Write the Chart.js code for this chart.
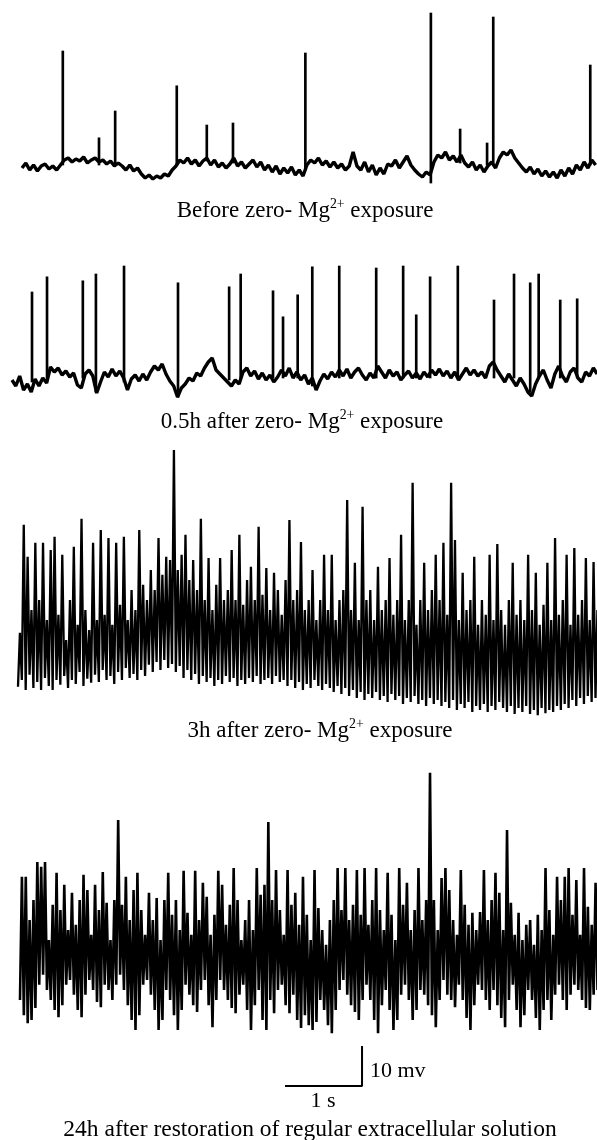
<!DOCTYPE html>
<html>
<head>
<meta charset="utf-8">
<script src="https://cdn.jsdelivr.net/npm/chart.js@4.4.1/dist/chart.umd.min.js"></script>
<style>
  body { margin: 0; background: #fff; }
  #wrap { position: relative; width: 597px; height: 1140px; overflow: hidden; }
  #traces { position: absolute; left: 0; top: 0; }
  .cap {
    position: absolute; color: #000; white-space: nowrap;
    font-family: 'Liberation Serif', 'Times New Roman', serif;
    font-size: 23px; line-height: 23px;
  }
  .mid { transform: translateX(-50%); }
  .sup { position: relative; top: -0.65em; font-size: 0.6em; }
</style>
</head>
<body>
<div id="wrap">
  <canvas id="traces" width="597" height="1140"></canvas>
  <div class="cap mid" style="left:305px; top:198px;">Before zero- Mg<span class="sup">2+</span> exposure</div>
  <div class="cap mid" style="left:302px; top:409px;">0.5h after zero- Mg<span class="sup">2+</span> exposure</div>
  <div class="cap mid" style="left:320px; top:718px;">3h after zero- Mg<span class="sup">2+</span> exposure</div>
  <div class="cap" style="left:370px; top:1059px; font-size:22px; line-height:22px;">10 mv</div>
  <div class="cap mid" style="left:323px; top:1089px; font-size:22px; line-height:22px;">1 s</div>
  <div class="cap mid" style="left:310px; top:1117px; font-size:23.5px;">24h after restoration of regular extracellular solution</div>
</div>
<script>
const dt = 0.05; // seconds between samples

// Before zero-Mg2+ : membrane potential around rest (mV), then spikes
const base1 = [-0.75,0.5,-1.25,0,-1.5,-0.25,0.25,-1,-0.25,-1.25,
  0,1.25,1.75,0.75,1.5,1,2,0.5,1.25,1.75,
  0.75,1.25,0.25,1,-0.25,0.5,-0.25,-1.25,0,-1.5,
  -0.75,-2.25,-3.25,-2.5,-3.5,-2.75,-3.25,-2.25,-2.75,-1.25,
  -0.25,1.25,0.5,1.75,0.25,1.25,-0.25,1,1.75,0,
  1.25,-0.5,0.5,-0.75,0.25,1.75,-0.25,0.75,-0.75,0.25,
  1.25,-0.5,0.75,-1.25,0,-1.75,-0.25,-2.25,-0.75,-2,
  -0.5,-2.5,-1.25,-2.75,0,1.25,0.5,1.75,0,1,
  -0.5,0.75,-0.75,0.25,-1.25,-0.25,3.25,-0.25,-1.25,0.75,
  -1.75,0,-2.5,-0.75,-2.25,0.25,-0.25,1.25,-0.75,0.75,
  2.25,0,-1.25,-2.25,-3,-1.75,-2.5,0.75,2.5,1.75,
  3.25,1.25,2.25,0.75,2.5,0.5,-0.5,0.75,-1.25,0,
  -1.75,-0.25,0.75,-0.75,1.75,3.25,2.5,3.75,1.75,0.5,
  -0.75,-1.75,-0.5,-2.25,-1,-2.75,-1.5,-3,-1.75,-3.25,
  -1.25,-2.75,-0.75,-2.25,0,-1.25,0.75,-0.75,1.25,0];
const spikeT1   = [0.53, 1.0, 1.21, 2.01, 2.40, 2.74, 3.68, 5.31, 5.69, 6.04, 6.12, 7.38];
const spikeTop1 = [28.5, 6.8, 13.5, 19.8, 10, 10.5, 28, 38, 9, 5.5, 37, 25];
const spikeLow1 = [0, 0, 0, 0, 1, 0.5, -1.3, -4.5, 0.5, 0, 0.5, 0];

// 0.5 h after zero-Mg2+
const base2 = [-0.5,-2,0.5,-3,-1.5,-3.5,-0.25,-2,0,-1.25,
  2.75,1.5,2.5,0.75,1.75,0.25,1.25,-1.75,-2.5,1,
  2,0.5,-3.75,-1,1.5,0.25,2.25,0.5,1.75,0,
  -3,-0.25,0.75,-0.75,1,-0.5,1.5,3,2,3.5,
  1,-0.75,-2,-4.75,-2.5,-1.5,0,-0.75,1.25,0.5,
  2.5,4,5,2,1,0,-1,-2,-0.5,-1.5,
  1.5,2.5,0.5,1.75,-0.25,1.25,-0.5,0.75,-1,0.25,
  2,0.5,2.5,0,1.5,-0.5,0.75,-1.5,0,-3,
  -0.75,1,-0.25,1.5,0.25,2,0.5,2.25,0,1.5,
  2.5,0.75,-0.5,1.25,0,3,1.5,0,2,0.5,
  1.5,-0.5,0.75,1.75,0,1.25,-0.25,1.5,0.25,2,
  0.75,2.25,0.5,1.75,0,1.5,-0.5,1,2.5,0.75,
  2,0.5,1.5,0,3,4,2,0.5,-1,1,
  -0.5,-2,0,-1.5,-3.5,-4.5,-1.5,0.5,2,-0.5,
  -2.5,1,3,0.5,-1,1.5,2.5,0,-1,1.5,
  0.5,2.5,1];
const spikeT2   = [0.13, 0.325, 0.79, 0.96, 1.325, 2.026, 2.69, 2.84, 3.26, 3.39, 3.58, 3.77,
                   4.12, 4.6, 4.95, 5.12, 5.30, 5.66, 6.13, 6.39, 6.60, 6.71, 6.99, 7.21];
const spikeTop2 = [21.5, 25.3, 24.3, 26, 28, 23.8, 22.8, 26, 21.8, 15.3, 20.8, 27.8,
                   28, 27.5, 28, 15.8, 25.3, 28, 19.5, 26, 23.8, 26, 19.5, 19.8];
const spikeLow2 = [-1, 0, 0, -3.5, -1, -4.8, -0.5, 0, 0, 0, 0, -2,
                   0, 0, 0, 0, 0, 0, 0, 0, -3.5, 0, 0, 0];

// 3 h after zero-Mg2+ : troughs and peaks of each discharge
const trough3 = [0.8,2.5,0,3.8,0.5,2,0,3,1,0,2.5,
  1.3,3.5,0.5,2.5,1.5,4.5,1,2.8,1.8,3.8,
  2,5,2.5,3.5,1.5,4.5,2.5,5.5,3,4,
  2.5,5,3.5,6.3,4.5,7,5,7.5,5.5,6.5,
  4.5,6,3,5,2.5,4,1.5,3.5,2,3,
  1,2.5,1.5,3.5,2,3,1,2.5,1.5,3,
  2,3.5,1.5,2.5,3,1.5,3.5,2,2.5,1,
  2.5,0.5,2,0,1.5,0.5,2.5,1,0,1.5,
  0.5,-0.5,1,-1,0.5,-1.5,0,-2,-0.5,-2.5,
  -1,-2,-0.5,-2.5,-1.5,-3,-1,-2.5,-1.5,-3.5,
  -2,-3,-1.5,-3.5,-2.5,-4,-2,-3.5,-2.5,-4,
  -3,-4.5,-2.5,-5,-3.5,-4.5,-3,-5.5,-4,-5,
  -3.5,-5.5,-4,-5,-3,-4.5,-5.5,-4,-6,-4.5,
  -5.5,-4,-6,-5,-6.3,-4.5,-5.8,-5,-5.5,-4,
  -5,-3.5,-4.5,-2.5,-4,-2,-3.5,-1.5,-3,-2];
const peak3 = [14.3,41.3,33.3,20,36.8,22.5,36.8,17.5,35,38.3,
  18.8,33.8,12.5,22.5,35.8,16.3,42.8,20,15,36.8,
  17.5,40,18.8,38,16.3,36.8,21.3,38.3,17.5,25,
  20,40,26.3,22.5,30,25,38,28.8,33.3,32.5,
  60,30,33.8,38.8,27.5,32.5,25,42.8,22.5,33,
  20,26.3,33,22.5,25,35,22.5,38.8,21.3,27.5,
  30.8,22.5,40.8,23.8,30.5,20,29.3,25,18.8,27.5,
  42.5,22.5,25,37,20,22.5,30,17.5,22.5,33.8,
  20,33.8,17.5,22.5,25,47.5,20,31.8,17.5,45.8,
  22.5,25,17.5,30.8,20,22.5,33,18.8,22.5,38.8,
  17.5,22.5,51.8,16.3,22.5,31.8,20,25,33.8,22.5,
  36.8,18.8,51.8,37.5,17.5,29.3,20,22.5,33.3,16.3,
  22.5,18.8,33.8,17.5,36.5,20,16.3,22.5,31.8,18.8,
  22.5,17.5,33.8,20,29.3,16.3,21.3,31.8,17.5,38,
  18.8,22.5,33.8,16.3,35.5,18.8,22.5,33,17.5,32,20];

// 24 h after restoration of regular extracellular solution
const trough4 = [0,-3.8,-5.8,-5,-2,3.8,6.3,2.5,0,-2.5,
  -4.3,-1.3,3.8,5,1.3,-2.5,-4.3,1.3,5,2.5,
  -0.5,-1.8,3.8,2.5,0,3.8,6.3,2.5,-1.3,-5,
  -7.5,-3.8,3.8,5,1.3,-2.5,-7.5,-5,2.5,0,
  -3.8,-7.5,-2.5,3.8,1.3,-1.3,-3,2.5,5,-1.3,
  -6.8,0,5,2.5,0,-2,-3.3,1.3,3.8,-2.5,
  -7.5,-1.3,2.5,-5,-7.5,0,-3.3,2.5,3.8,-1.3,
  -3.3,1.3,-5,-7,-3.8,-6.3,-7.5,-5.5,0,-2.5,
  -6.3,-8.3,-2.5,2.5,5,1.3,-1.3,-3,-5,0,
  3.8,0,-5,-8.3,-1.3,2.5,-2.5,-7.5,-5,1.3,
  3.8,0,-5,-2.5,2.5,1.3,-1.3,-3.8,-6.8,0,
  5,1.3,0,-1.8,3.8,0,-4.5,-7.5,-1.3,3.8,
  2.5,0,-2.5,2.5,-1.3,-4.5,-6.8,0,3.8,-2.5,
  -6.8,-3.8,2.5,0,-4.5,-7.5,-2.5,0,-5,1.3,
  3.8,0,-2.5,1.3,3.8,2.5,0,-2,-2.5,1.3,2.5];
const peak4 = [30.8,30.8,20,25,34.5,33.3,34.5,15,23.8,31.8,
  22.5,28.8,17.5,26.8,18.8,25,31.3,27.5,16.3,28.8,
  22.5,32,24.3,15,25,45,23.8,30.8,20,27.5,
  31.8,22.5,16.3,26.8,20,25.5,15,25,31.8,21.3,
  25,17.5,32.3,21.8,16.3,32.3,20,29.3,25.8,16.3,
  21.3,32.3,28.8,18.8,23.8,33,25,15,20,25,
  17.5,33,26.3,28.8,44.5,25,32.5,22.5,16.3,32.5,
  23.8,26.8,18.8,30.8,21.3,15,32.5,23,17.5,13.8,
  20,25,33,22.5,33,20,23.8,32.5,21.3,33,
  18.8,25,33,22.5,17.5,31.8,21.3,15,33,23.8,
  29.3,17.5,22.5,33,20,25,56.8,25,17.5,30.5,
  33,27.5,20,16.3,32.5,23.8,18.8,21.8,17.5,22,
  32.5,20,25,31.8,26.8,17.5,42.5,24.3,16.3,21.8,
  15,18.8,20,13.8,21.3,17.5,33,22.5,16.3,30.8,
  25,30.8,33,21.3,30,16.3,33,23.3,18.8,29.3,25];

// scale bar: 1 s by 10 mV
const scaleT = [0, 1, 1];
const scaleV = [0, 0, 10];

// where each trace sits on the shared axes (start time in s, resting level in mV)
const place1 = { start: 0, level: 243.75 };
const place2 = { start: -0.13, level: 190.5 };
const place3 = { start: -0.052, level: 112.5 };
const place4 = { start: -0.026, level: 35 };
const placeBar = { start: 3.416, level: 13.5 };

function restLine(vals, p) {
  return vals.map((v, i) => ({ x: p.start + i * dt, y: p.level + v }));
}
function burstLine(lows, highs, p) {
  const pts = [];
  lows.forEach((v, i) => {
    pts.push({ x: p.start + i * dt, y: p.level + v });
    pts.push({ x: p.start + i * dt + dt / 2, y: p.level + highs[i] });
  });
  return pts;
}
function spikeBars(ts, lows, tops, p) {
  return ts.map((t, i) => ({ x: t, y: [p.level + lows[i], p.level + tops[i]] }));
}

const black = '#000';
const lineSet = (data, w) => ({ type: 'line', data, borderColor: black, borderWidth: w, pointRadius: 0, tension: 0, borderJoinStyle: 'bevel' });
const barSet = (data) => ({ type: 'bar', data, backgroundColor: black, barThickness: 2, grouped: false, borderWidth: 0 });

new Chart(document.getElementById('traces'), {
  type: 'line',
  data: {
    datasets: [
      lineSet(restLine(base1, place1), 3.4),
      barSet(spikeBars(spikeT1, spikeLow1, spikeTop1, place1)),
      lineSet(restLine(base2, place2), 3.4),
      barSet(spikeBars(spikeT2, spikeLow2, spikeTop2, place2)),
      lineSet(burstLine(trough3, peak3, place3), 2.3),
      lineSet(burstLine(trough4, peak4, place4), 2.6),
      lineSet(scaleT.map((t, i) => ({ x: placeBar.start + t, y: placeBar.level + scaleV[i] })), 2)
    ]
  },
  options: {
    responsive: false,
    animation: false,
    events: [],
    layout: { padding: 0 },
    plugins: { legend: { display: false }, tooltip: { enabled: false } },
    scales: {
      x: { type: 'linear', min: -22 / 77, max: 575 / 77, offset: false, display: false },
      y: { type: 'linear', min: 0, max: 285, display: false }
    }
  }
});
</script>
</body>
</html>
